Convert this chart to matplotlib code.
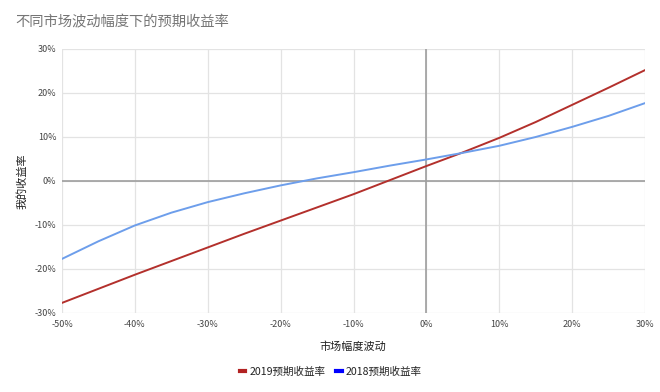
import matplotlib
matplotlib.use("Agg")
import matplotlib.pyplot as plt
from matplotlib.lines import Line2D
from matplotlib.ticker import FuncFormatter

plt.rcParams['font.family'] = ['Noto Sans CJK SC', 'DejaVu Sans']

market = [-50, -45, -40, -35, -30, -25, -20, -15, -10, -5, 0, 5, 10, 15, 20, 25, 30]
ret2019 = [-27.7, -24.5, -21.3, -18.2, -15.1, -12.0, -9.0, -6.0, -3.0, 0.2, 3.4, 6.5, 9.8, 13.4, 17.3, 21.2, 25.2]
ret2018 = [-17.7, -13.7, -10.1, -7.2, -4.8, -2.8, -1.0, 0.6, 2.0, 3.5, 4.9, 6.4, 8.0, 10.0, 12.3, 14.8, 17.7]

title = "不同市场波动幅度下的预期收益率"
xlabel = "市场幅度波动"
ylabel = "我的收益率"
labels = ["2019预期收益率", "2018预期收益率"]
xticks = [-50, -40, -30, -20, -10, 0, 10, 20, 30]
yticks = [-30, -20, -10, 0, 10, 20, 30]

fig = plt.figure(figsize=(6.6, 3.92), dpi=100)
ax = fig.add_axes([62/660, 1-313/392, (645-62)/660, (313-49)/392])

ax.plot(market, ret2019, color='#b3302c', lw=1.4, zorder=3)
ax.plot(market, ret2018, color='#6d9eeb', lw=1.4, zorder=3)

ax.set_xlim(-50, 30)
ax.set_ylim(-30, 30)
ax.set_xticks(xticks)
ax.set_yticks(yticks)
fmt = FuncFormatter(lambda v, p: f"{int(v)}%")
ax.xaxis.set_major_formatter(fmt)
ax.yaxis.set_major_formatter(fmt)
ax.grid(True, color='#e3e3e3', lw=0.9, zorder=0)
ax.axhline(0, color='#9e9e9e', lw=1.2, zorder=2)
ax.axvline(0, color='#9e9e9e', lw=1.2, zorder=2)
for s in ax.spines.values():
    s.set_visible(False)
ax.tick_params(length=0, labelsize=6.5, labelcolor='#444444', pad=4)
ax.tick_params(axis='x', pad=5)

fig.text(15/660, 1-22/392, title, fontsize=10.3, color='#757575', va='center', ha='left')
fig.text(353/660, 1-347/392, xlabel, fontsize=8, color='#222222', va='center', ha='center')
fig.text(22/660, 1-181/392, ylabel, fontsize=8, color='#222222', va='center', ha='center', rotation=90)

handles = [Line2D([], [], color='#b22222', lw=3), Line2D([], [], color='#0000ff', lw=3)]
fig.legend(handles, labels, loc='center', bbox_to_anchor=(331/660, 1-372/392), ncol=2,
           frameon=False, fontsize=7.6, handlelength=0.5, handletextpad=0.4, columnspacing=1.0,
           labelcolor='#222222')

fig.savefig("out.png", dpi=100)
